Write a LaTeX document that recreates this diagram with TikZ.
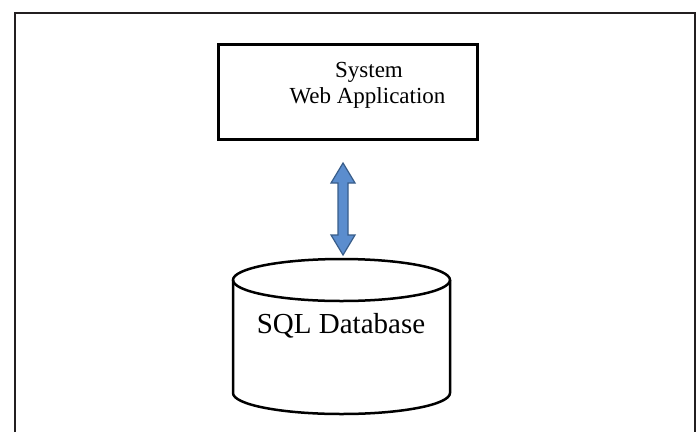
\documentclass[tikz,border=0pt]{standalone}
\usepackage{fontspec}
\setmainfont{Liberation Serif}
\usetikzlibrary{calc}
\definecolor{framegray}{RGB}{35,31,32}
\definecolor{arrowfill}{RGB}{91,141,206}
\definecolor{arrowedge}{RGB}{56,93,138}
\begin{document}
\begin{tikzpicture}[x=1pt,y=-1pt,
  outline/.style={draw=black,line width=2.5pt},
  boxtext/.style={anchor=base,inner sep=0pt,font=\fontsize{23}{26}\selectfont},
  dbtext/.style={anchor=base,inner sep=0pt,font=\fontsize{29}{32}\selectfont}]
\useasboundingbox (0,0) rectangle (698,432);

% page frame, open at the bottom
\draw[framegray,line width=2.2pt] (15,432) -- (15,13) -- (695,13) -- (695,432);

% application box
\node[outline,anchor=north west,minimum width=259pt,minimum height=95pt,inner sep=0pt] (app) at (217,43) {};
\node[boxtext] (appline1) at (369,77) {System};
\node[boxtext] (appline2) at (367.5,103) {Web Application};

% database cylinder
\coordinate (dbtop) at (341.5,280);
\coordinate (dbbot) at (341.5,393);
\draw[outline] (dbtop) ellipse [x radius=108.5pt, y radius=21pt];
\draw[outline] ($(dbtop)+(-108.5,0)$) -- ($(dbbot)+(-108.5,0)$)
  arc[start angle=180,end angle=360,x radius=108.5pt,y radius=21pt]
  -- ($(dbtop)+(108.5,0)$);
\node[dbtext] (db) at (341,333) {SQL Database};

% two-way link between the box and the database
\coordinate (tipA) at (343,163);
\coordinate (tipB) at (343,255);
\filldraw[fill=arrowfill,draw=arrowedge,line width=1.2pt,line join=miter]
  (tipA) -- ($(tipA)+(12,20)$) -- ($(tipA)+(5,20)$) -- ($(tipB)+(5,-20)$)
  -- ($(tipB)+(12,-20)$) -- (tipB) -- ($(tipB)+(-12,-20)$) -- ($(tipB)+(-5,-20)$)
  -- ($(tipA)+(-5,20)$) -- ($(tipA)+(-12,20)$) -- cycle;
\end{tikzpicture}
\end{document}
